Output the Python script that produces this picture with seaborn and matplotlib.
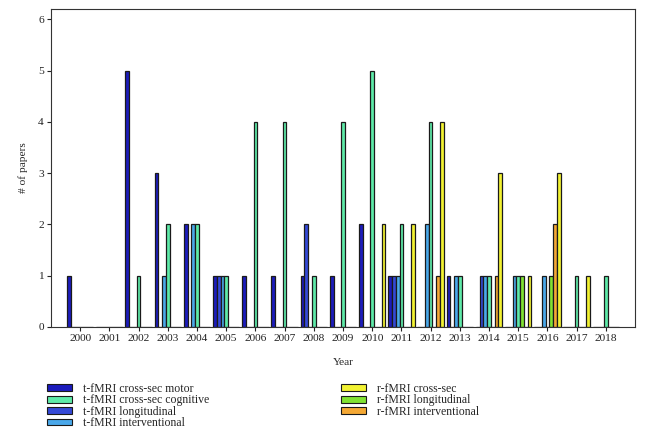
import numpy as np
import pandas as pd
import matplotlib
matplotlib.use("Agg")
import matplotlib.pyplot as plt
import seaborn as sns
from matplotlib.patches import Patch

sns.set_style("ticks")
plt.rcParams['font.family'] = ['Liberation Serif', 'DejaVu Serif']

# papers per year
years = [str(y) for y in range(2000, 2019)]
t_motor        = [1, 0, 5, 3, 2, 1, 1, 1, 1, 1, 2, 1, 0, 1, 0, 0, 0, 0, 0]
t_cognitive    = [0, 0, 1, 2, 2, 1, 4, 4, 1, 4, 5, 2, 4, 1, 1, 1, 0, 1, 1]
t_longitudinal = [0, 0, 0, 0, 0, 1, 0, 0, 2, 0, 0, 1, 0, 0, 1, 0, 0, 0, 0]
t_interv       = [0, 0, 0, 1, 2, 1, 0, 0, 0, 0, 0, 1, 2, 1, 1, 1, 1, 0, 0]
r_cross        = [0, 0, 0, 0, 0, 0, 0, 0, 0, 0, 2, 2, 4, 0, 3, 1, 3, 1, 0]
r_longitudinal = [0, 0, 0, 0, 0, 0, 0, 0, 0, 0, 0, 0, 0, 0, 0, 1, 1, 0, 0]
r_interv       = [0, 0, 0, 0, 0, 0, 0, 0, 0, 0, 0, 0, 1, 0, 1, 0, 2, 0, 0]

legend_order = ["t-fMRI cross-sec motor", "t-fMRI cross-sec cognitive",
                "t-fMRI longitudinal", "t-fMRI interventional",
                "r-fMRI cross-sec", "r-fMRI longitudinal", "r-fMRI interventional"]
series = dict(zip(legend_order, [t_motor, t_cognitive, t_longitudinal, t_interv,
                                 r_cross, r_longitudinal, r_interv]))
colors = dict(zip(legend_order, ["#1c1cbc", "#5eeaa8", "#3449d6", "#4aa8ea",
                                 "#f2f232", "#80e232", "#f4a834"]))

# order of the bars inside each year group
bar_order = ["t-fMRI cross-sec motor", "t-fMRI longitudinal", "t-fMRI interventional",
             "t-fMRI cross-sec cognitive", "r-fMRI longitudinal",
             "r-fMRI interventional", "r-fMRI cross-sec"]

rows = []
for name, vals in series.items():
    for y, v in zip(years, vals):
        rows.append([y, name, v])
df = pd.DataFrame(rows, columns=['Year', 'Type', 'Count'])

fig = plt.figure(figsize=(6.46, 4.38), dpi=100)
ax = fig.add_axes([51/646, 111/438, 584/646, 318/438])

sns.barplot(data=df, x='Year', y='Count', hue='Type', hue_order=bar_order,
            palette=colors, saturation=1, width=0.9, edgecolor='#1a1a1a',
            linewidth=0.9, legend=False, ax=ax)

ax.set_xlim(-1, 19)
ax.set_ylim(0, 6.2)
ax.set_yticks(range(7))
for s in ax.spines.values():
    s.set_visible(True)
    s.set_color('#333333')
    s.set_linewidth(0.8)
ax.tick_params(axis='both', direction='out', length=3, width=0.8,
               labelsize=8.2, colors='#222222', pad=2)
ax.set_xlabel("Year", fontsize=8.2, labelpad=11)
ax.set_ylabel("# of papers", fontsize=8.2, labelpad=7)

handles = [Patch(facecolor=colors[n], edgecolor='#1a1a1a', linewidth=0.8) for n in legend_order]
fig.legend(handles, legend_order, loc='upper left', bbox_to_anchor=(47/646, 1 - 383/438),
           ncol=2, frameon=False, fontsize=8.5, handlelength=2.1, handleheight=0.5,
           handletextpad=0.95, labelspacing=-0.05, columnspacing=11.2,
           borderpad=0, borderaxespad=0)

fig.savefig("out.png", dpi=100)
